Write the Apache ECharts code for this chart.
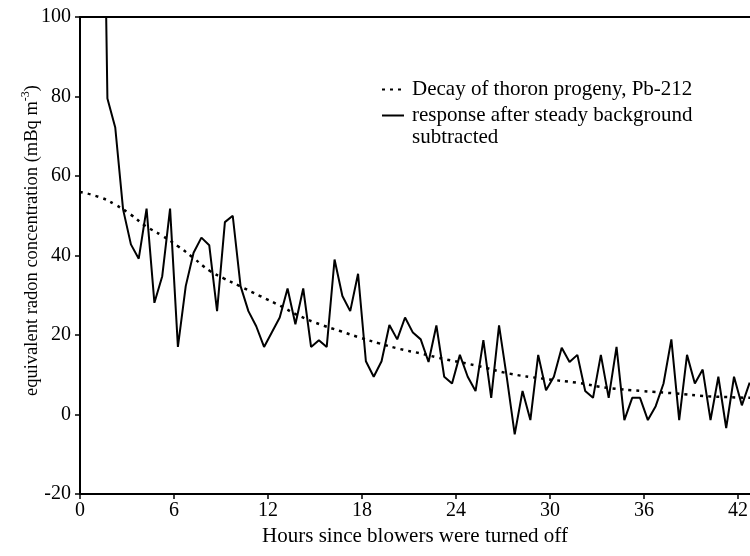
<!DOCTYPE html>
<html>
<head>
<meta charset="utf-8">
<script src="https://cdn.jsdelivr.net/npm/echarts@6/dist/echarts.min.js"></script>
<style>
    html, body { margin: 0; padding: 0; background: #fff; }
    #chart { width: 750px; height: 556px; }
</style>
</head>
<body>
<div id="chart"></div>
<script>
// measured response (background subtracted), every half hour
var respHours = [1.25, 1.75, 2.25, 2.75, 3.25, 3.75, 4.25, 4.75, 5.25, 5.75,
    6.25, 6.75, 7.25, 7.75, 8.25, 8.75, 9.25, 9.75, 10.25, 10.75,
    11.25, 11.75, 12.25, 12.75, 13.25, 13.75, 14.25, 14.75, 15.25, 15.75,
    16.25, 16.75, 17.25, 17.75, 18.25, 18.75, 19.25, 19.75, 20.25, 20.75,
    21.25, 21.75, 22.25, 22.75, 23.25, 23.75, 24.25, 24.75, 25.25, 25.75,
    26.25, 26.75, 27.25, 27.75, 28.25, 28.75, 29.25, 29.75, 30.25, 30.75,
    31.25, 31.75, 32.25, 32.75, 33.25, 33.75, 34.25, 34.75, 35.25, 35.75,
    36.25, 36.75, 37.25, 37.75, 38.25, 38.75, 39.25, 39.75, 40.25, 40.75,
    41.25, 41.75, 42.25, 42.75];
var respValues = [210, 79.5, 72.2, 51.6, 42.8, 39.2, 51.8, 28.1, 34.8, 51.8,
    17.0, 32.3, 40.7, 44.5, 42.6, 26.0, 48.4, 50.0, 32.3, 26.0,
    22.2, 17.0, 20.7, 24.4, 31.7, 22.7, 31.7, 17.0, 18.7, 17.0,
    39.0, 29.8, 26.0, 35.4, 13.4, 9.5, 13.4, 22.5, 18.9, 24.4,
    20.6, 18.9, 13.2, 22.4, 9.5, 7.8, 15.0, 9.5, 5.9, 18.7,
    4.2, 22.4, 9.2, -5.0, 5.9, -1.4, 15.0, 6.1, 9.5, 16.8,
    13.2, 15.0, 5.9, 4.2, 15.0, 4.2, 17.0, -1.4, 4.2, 4.2,
    -1.4, 2.1, 7.8, 18.9, -1.4, 15.0, 7.8, 11.3, -1.4, 9.5,
    -3.4, 9.5, 2.3, 8.0];

// Pb-212 decay curve
var decayHours = [0, 1.3, 2.2, 3.2, 4.2, 5.2, 6.3, 7.2, 8.3, 9.2, 10.2, 11.5, 12.8, 14, 15.3,
    16.6, 17.9, 19.1, 20.4, 21.7, 23.2, 25.3, 27.4, 29.6, 31.7, 33.7, 35.9, 38, 40.1, 42.8];
var decayValues = [56, 54.6, 52.9, 50.4, 47.4, 45.1, 42.2, 39.5, 36.1, 34.2, 32.3, 29.8, 27.3, 24.8, 22.7,
    21.0, 19.3, 17.9, 16.5, 15.4, 14.0, 12.3, 10.3, 9.0, 8.0, 6.7, 5.9, 5.3, 4.6, 4.2];

var xTicks = [0, 6, 12, 18, 24, 30, 36, 42];

var font = "'Liberation Serif', 'Times New Roman', serif";

function pairs(xs, ys) {
    var out = [];
    for (var i = 0; i < xs.length; i++) out.push([xs[i], ys[i]]);
    return out;
}

var chart = echarts.init(document.getElementById('chart'));
var option = {
    animation: false,
    backgroundColor: '#fff',
    textStyle: { fontFamily: font, color: '#000' },
    grid: { left: 80, top: 17, right: 0, bottom: 62, outerBoundsMode: 'none' },
    legend: {
        orient: 'vertical',
        left: 376,
        top: 74,
        itemWidth: 22,
        itemHeight: 10,
        itemGap: 5,
        selectedMode: false,
        itemStyle: { opacity: 0 },
        textStyle: { fontFamily: font, fontSize: 21, color: '#000', lineHeight: 20, padding: [0, 0, 0, 3] },
        data: ['Decay of thoron progeny, Pb-212', 'response after steady background']
    },
    graphic: [{
        type: 'text',
        left: 412,
        top: 127,
        style: { text: 'subtracted', font: '21px ' + font, fill: '#000' }
    }],
    xAxis: [{
        type: 'value',
        min: 0,
        max: 42.77,
        interval: 6,
        name: 'Hours since blowers were turned off',
        nameLocation: 'middle',
        nameGap: 30,
        nameTextStyle: { fontFamily: font, fontSize: 21, color: '#000' },
        axisLine: { onZero: false, lineStyle: { color: '#000', width: 2 } },
        axisTick: { show: true, inside: false, length: 5, lineStyle: { color: '#000', width: 1.5 },
            customValues: xTicks },
        axisLabel: { fontFamily: font, fontSize: 20, color: '#000', margin: 7,
            customValues: xTicks },
        splitLine: { show: false }
    }, {
        type: 'value',
        position: 'top',
        min: 0,
        max: 42.77,
        axisLine: { show: true, onZero: false, lineStyle: { color: '#000', width: 2 } },
        axisTick: { show: false },
        axisLabel: { show: false },
        splitLine: { show: false }
    }],
    yAxis: {
        type: 'value',
        min: -20,
        max: 100,
        interval: 20,
        name: '{t|equivalent radon concentration (mBq m}{s|-3}{t|)}',
        nameLocation: 'middle',
        nameGap: 38,
        nameMoveOverlap: false,
        nameTextStyle: {
            fontFamily: font,
            color: '#000',
            padding: [0, 0, 0, 30],
            rich: {
                t: { fontFamily: font, fontSize: 18.5, color: '#000', lineHeight: 22, verticalAlign: 'bottom' },
                s: { fontFamily: font, fontSize: 12, color: '#000', lineHeight: 22, verticalAlign: 'top' }
            }
        },
        axisLine: { show: true, onZero: false, lineStyle: { color: '#000', width: 2 } },
        axisTick: { show: true, inside: false, length: 5, lineStyle: { color: '#000', width: 1.5 } },
        axisLabel: { fontFamily: font, fontSize: 20, color: '#000', margin: 9 },
        splitLine: { show: false }
    },
    series: [{
        name: 'Decay of thoron progeny, Pb-212',
        type: 'line',
        smooth: true,
        symbol: 'none',
        color: '#000',
        lineStyle: { color: '#000', width: 2.5, type: [3, 5] },
        data: pairs(decayHours, decayValues)
    }, {
        name: 'response after steady background',
        type: 'line',
        symbol: 'none',
        color: '#000',
        clip: true,
        lineStyle: { color: '#000', width: 2 },
        data: pairs(respHours, respValues)
    }]
};
chart.setOption(option);
</script>
</body>
</html>
